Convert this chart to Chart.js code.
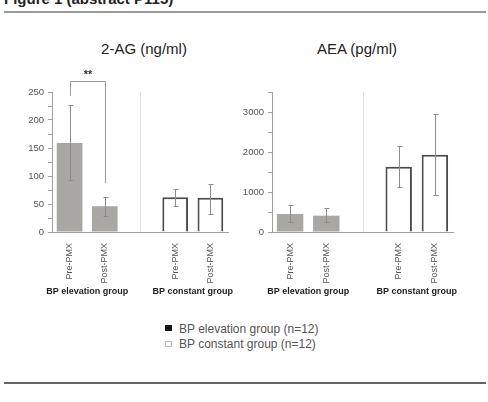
<!DOCTYPE html>
<html><head><meta charset="utf-8">
<script src="https://cdn.jsdelivr.net/npm/chart.js@4"></script>
<style>
html,body{margin:0;padding:0;background:#fff;}
#wrap{position:relative;width:488px;height:402px;overflow:hidden;font-family:"Liberation Sans",Arial,sans-serif;background:#fff;}
#figtitle{position:absolute;left:4px;top:-9px;font-weight:bold;font-size:15px;line-height:15px;color:#222;white-space:nowrap;}
.rule{position:absolute;left:4px;width:482px;height:2px;}
.ptitle{position:absolute;top:41px;width:140px;text-align:center;font-size:15px;line-height:15px;color:#222;white-space:nowrap;}
canvas{position:absolute;}
.mk{position:absolute;width:7px;height:6px;box-sizing:border-box;}
.lt{position:absolute;left:179px;font-size:12px;line-height:14px;color:#555;white-space:nowrap;}
</style></head><body>
<div id="wrap">
  <div id="figtitle">Figure 1 (abstract P115)</div>
  <div class="rule" style="top:11px;background:#9a9a9a;"></div>
  <div class="ptitle" id="t1" style="left:74px;"></div>
  <div class="ptitle" id="t2" style="left:287px;"></div>
  <canvas id="c1" width="240" height="240" style="left:0;top:60px;"></canvas>
  <canvas id="c2" width="248" height="240" style="left:240px;top:60px;"></canvas>
  <div class="mk" style="left:165px;top:325px;background:#111;"></div>
  <div class="lt" id="l1" style="top:321.5px;"></div>
  <div class="mk" style="left:165px;top:341px;background:#fff;border:1px solid #bbb;"></div>
  <div class="lt" id="l2" style="top:336.5px;"></div>
  <div class="rule" style="top:382px;background:#666;"></div>
</div>
<script>
// ---- data ----
const categories = ['Pre-PMX', 'Post-PMX', '', 'Pre-PMX', 'Post-PMX'];
const groupLabels = ['BP elevation group', 'BP constant group'];
const seriesNames = ['BP elevation group (n=12)', 'BP constant group (n=12)'];
const panelTitles = ['2-AG (ng/ml)', 'AEA (pg/ml)'];

// 2-AG (ng/ml)
const ag2Elevation = [159, 46, null, null, null];
const ag2Constant  = [null, null, null, 62, 61];
const ag2ErrLow    = [93, 28, null, 46, 33];
const ag2ErrHigh   = [227, 62, null, 77, 86];

// AEA (pg/ml)
const aeaElevation = [450, 408, null, null, null];
const aeaConstant  = [null, null, null, 1633, 1933];
const aeaErrLow    = [243, 258, null, 1117, 925];
const aeaErrHigh   = [683, 592, null, 2142, 2950];

document.getElementById('t1').textContent = panelTitles[0];
document.getElementById('t2').textContent = panelTitles[1];
document.getElementById('l1').textContent = seriesNames[0];
document.getElementById('l2').textContent = seriesNames[1];

const extras = {
  id: 'extras',
  beforeDatasetsDraw(chart, args, opts) {
    const {ctx, chartArea, scales: {x}} = chart;
    const sx = Math.round(x.getPixelForValue(opts.sepIndex)) + 0.5;
    ctx.save();
    ctx.strokeStyle = '#e2e2e2'; ctx.lineWidth = 1;
    ctx.beginPath(); ctx.moveTo(sx, chartArea.top); ctx.lineTo(sx, chartArea.bottom); ctx.stroke();
    ctx.restore();
  },
  afterDatasetsDraw(chart, args, opts) {
    const {ctx, chartArea, scales: {x, y}} = chart;
    ctx.save();
    ctx.strokeStyle = '#8c8c8c'; ctx.lineWidth = 1;
    opts.low.forEach((lo, i) => {
      const hi = opts.high[i];
      if (lo == null) return;
      const px = Math.round(x.getPixelForValue(i)) + 0.5;
      const y1 = Math.round(y.getPixelForValue(lo)) + 0.5, y2 = Math.round(y.getPixelForValue(hi)) + 0.5;
      ctx.beginPath();
      ctx.moveTo(px, y1); ctx.lineTo(px, y2);
      ctx.moveTo(px - 2, y1); ctx.lineTo(px + 3, y1);
      ctx.moveTo(px - 2, y2); ctx.lineTo(px + 3, y2);
      ctx.stroke();
    });
    ctx.font = 'bold 9px "Liberation Sans", Arial, sans-serif';
    ctx.fillStyle = '#222'; ctx.textAlign = 'center'; ctx.textBaseline = 'middle';
    opts.groups.forEach(g => {
      const cx = (x.getPixelForValue(g.from) + x.getPixelForValue(g.to)) / 2;
      ctx.fillText(g.label, cx, chartArea.bottom + 60);
    });
    if (opts.bracket) {
      const b = opts.bracket;
      const xl = Math.round(x.getPixelForValue(b.from)) + 0.5, xr = Math.round(x.getPixelForValue(b.to)) + 0.5;
      const yt = Math.round(y.getPixelForValue(b.top)) + 0.5;
      ctx.strokeStyle = '#9a9a9a';
      ctx.beginPath();
      ctx.moveTo(xl, y.getPixelForValue(b.leftEnd)); ctx.lineTo(xl, yt);
      ctx.lineTo(xr, yt); ctx.lineTo(xr, y.getPixelForValue(b.rightEnd));
      ctx.stroke();
      ctx.font = 'bold 11px "Liberation Sans", Arial, sans-serif';
      ctx.fillStyle = '#333';
      ctx.fillText(b.text, (xl + xr) / 2, yt - 7);
    }
    ctx.restore();
  }
};

function makeChart(id, elev, cons, lo, hi, max, step, labelStep, yWidth, padRight, bracket) {
  return new Chart(document.getElementById(id), {
    type: 'bar',
    data: {
      labels: categories,
      datasets: [
        {label: seriesNames[0], data: elev, backgroundColor: '#a9a7a4', borderColor: '#a09e9b', borderWidth: 0},
        {label: seriesNames[1], data: cons, backgroundColor: '#ffffff', borderColor: '#4a4a4a', borderWidth: 2}
      ]
    },
    options: {
      responsive: false, animation: false, devicePixelRatio: 1,
      grouped: false,
      datasets: {bar: {grouped: false, barPercentage: 0.73, categoryPercentage: 1}},
      layout: {padding: {top: 32, right: padRight, left: 0, bottom: 0}},
      plugins: {
        legend: {display: false}, tooltip: {enabled: false},
        extras: {low: lo, high: hi, sepIndex: 2,
          groups: [{label: groupLabels[0], from: 0, to: 1}, {label: groupLabels[1], from: 3, to: 4}],
          bracket: bracket}
      },
      scales: {
        x: {
          afterFit(s) { s.height = 68; },
          grid: {display: false},
          border: {display: true, color: '#a0a0a0', width: 1},
          ticks: {autoSkip: false, minRotation: 90, maxRotation: 90, padding: 3, color: '#555',
                  font: {family: '"Liberation Sans", Arial, sans-serif', size: 9}}
        },
        y: {
          min: 0, max: max,
          afterFit(s) { s.width = yWidth; },
          grid: {display: true, drawOnChartArea: false, drawTicks: true, tickLength: 4, color: '#a0a0a0'},
          border: {display: true, color: '#a0a0a0', width: 1},
          ticks: {stepSize: step, autoSkip: false, padding: 4, color: '#555',
                  font: {family: '"Liberation Sans", Arial, sans-serif', size: 9.5},
                  callback: v => (v % labelStep === 0 ? v : '')}
        }
      }
    },
    plugins: [extras]
  });
}

makeChart('c1', ag2Elevation, ag2Constant, ag2ErrLow, ag2ErrHigh, 250, 25, 50, 52, 12,
  {from: 0, to: 1, top: 269, leftEnd: 243, rightEnd: 87, text: '**'});
makeChart('c2', aeaElevation, aeaConstant, aeaErrLow, aeaErrHigh, 3500, 500, 1000, 32, 35, null);
</script>
</body></html>
